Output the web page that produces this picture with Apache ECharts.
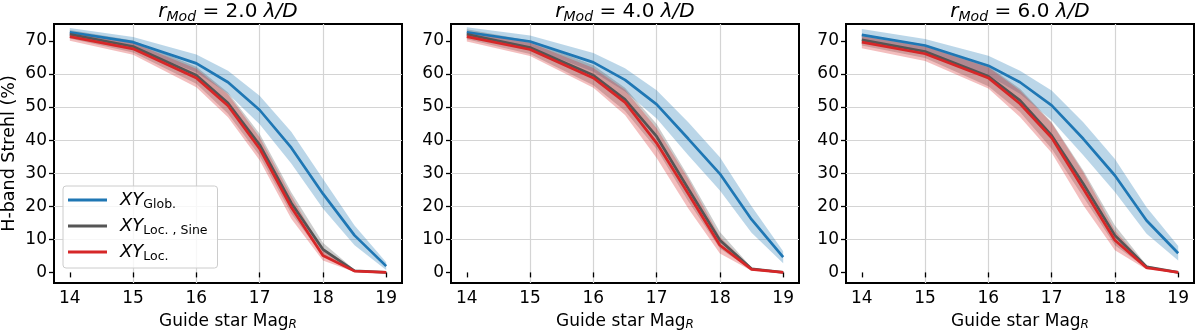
<!DOCTYPE html>
<html>
<head>
<meta charset="utf-8">
<script src="https://cdn.jsdelivr.net/npm/echarts@6/dist/echarts.min.js"></script>
<style>
  html, body { margin: 0; padding: 0; background: #fff; }
  #chart { width: 1200px; height: 331px; }
</style>
</head>
<body>
<div id="chart"></div>
<script>
// guide star magnitudes (x)
const mags = [14, 15, 16, 16.5, 17, 17.5, 18, 18.5, 19];
const xTicks = [14, 15, 16, 17, 18, 19];
const yTicks = [0, 10, 20, 30, 40, 50, 60, 70];
const panelTitles = ['2.0', '4.0', '6.0'];

// r_Mod = 2.0
const glob1 = [72.6, 69.6, 63.2, 57.5, 49.1, 37.7, 23.8, 11.2, 1.9];
const globErr1 = [1.3, 1.6, 2.7, 3.5, 4.3, 4.8, 4.5, 3.0, 1.2];
const sine1 = [72.0, 68.3, 59.6, 51.2, 38.6, 21.0, 7.0, 0.5, 0.0];
const sineErr1 = [1.3, 1.8, 2.6, 3.2, 3.3, 3.2, 2.0, 0.3, 0.05];
const loc1 = [71.3, 67.6, 58.8, 50.4, 37.4, 19.7, 5.1, 0.4, 0.0];
const locErr1 = [1.3, 1.8, 2.8, 3.5, 3.5, 3.5, 1.5, 0.3, 0.05];

// r_Mod = 4.0
const glob2 = [72.6, 69.8, 63.5, 58.2, 50.8, 40.4, 29.8, 16.0, 4.6];
const globErr2 = [1.5, 1.8, 2.8, 3.5, 4.3, 5.0, 5.0, 4.0, 1.8];
const sine2 = [72.0, 68.0, 59.6, 52.3, 41.1, 25.3, 9.7, 1.1, 0.0];
const sineErr2 = [1.5, 2.0, 3.0, 3.5, 3.8, 3.8, 2.5, 0.4, 0.05];
const loc2 = [71.3, 67.4, 58.8, 51.4, 39.1, 23.8, 8.2, 0.9, 0.0];
const locErr2 = [1.5, 2.0, 3.0, 3.8, 4.5, 4.5, 2.5, 0.4, 0.05];

// r_Mod = 6.0
const glob3 = [71.8, 68.6, 62.5, 57.5, 50.5, 40.4, 29.3, 15.7, 5.8];
const globErr3 = [1.8, 2.0, 3.0, 3.5, 4.5, 5.0, 5.0, 4.0, 2.2];
const sine3 = [70.3, 66.8, 59.3, 52.0, 41.4, 26.8, 11.2, 1.7, 0.0];
const sineErr3 = [1.7, 2.0, 3.0, 3.5, 4.0, 4.0, 3.0, 0.5, 0.05];
const loc3 = [69.6, 66.1, 58.8, 51.0, 40.7, 25.3, 9.7, 1.4, 0.0];
const locErr3 = [1.8, 2.2, 3.2, 4.0, 4.5, 5.0, 3.0, 0.5, 0.05];

const panels = [
  { glob: glob1, globErr: globErr1, sine: sine1, sineErr: sineErr1, loc: loc1, locErr: locErr1 },
  { glob: glob2, globErr: globErr2, sine: sine2, sineErr: sineErr2, loc: loc2, locErr: locErr2 },
  { glob: glob3, globErr: globErr3, sine: sine3, sineErr: sineErr3, loc: loc3, locErr: locErr3 }
];

const colors = { glob: '#1f77b4', sine: '#555555', loc: '#d62728' };
const legendNames = {
  glob: '{i|XY}{s|Glob.}',
  sine: '{i|XY}{s|Loc. , Sine}',
  loc: '{i|XY}{s|Loc.}'
};
const font = 'DejaVu Sans';
const gridLefts = [54, 451, 846];

let myChart = echarts.init(document.getElementById('chart'));

function bandSeries(p, mean, err, color) {
  return {
    type: 'custom',
    xAxisIndex: p,
    yAxisIndex: p,
    silent: true,
    z: 1,
    data: mags.map((m, i) => [m, mean[i] - err[i], mean[i] + err[i]]),
    encode: { x: 0, y: [1, 2] },
    renderItem: function (params, api) {
      if (params.dataIndex !== 0) return;
      let pts = [];
      for (let i = 0; i < mags.length; i++) pts.push(api.coord([mags[i], mean[i] + err[i]]));
      for (let i = mags.length - 1; i >= 0; i--) pts.push(api.coord([mags[i], mean[i] - err[i]]));
      return {
        type: 'polygon',
        shape: { points: pts },
        style: { fill: color, opacity: 0.3 }
      };
    }
  };
}

function lineSeries(p, key, vals) {
  return {
    name: key,
    type: 'line',
    xAxisIndex: p,
    yAxisIndex: p,
    z: 3,
    symbol: 'none',
    silent: true,
    data: mags.map((m, i) => [m, vals[i]]),
    lineStyle: { color: colors[key], width: 2.7 },
    itemStyle: { color: colors[key] }
  };
}

let grids = [], xAxes = [], yAxes = [], series = [], graphics = [];
panels.forEach(function (d, p) {
  grids.push({
    left: gridLefts[p], top: 24, width: 348, height: 259,
    containLabel: false, outerBoundsMode: 'none',
    show: true, borderColor: '#000', borderWidth: 2, backgroundColor: 'transparent'
  });
  xAxes.push({
    type: 'value', gridIndex: p, min: 13.75, max: 19.25, interval: 1,
    name: 'Guide star Mag{s|R}', nameLocation: 'middle', nameGap: 27,
    nameTextStyle: {
      fontFamily: font, fontSize: 17, color: '#000', lineHeight: 19,
      rich: { s: { fontFamily: font, fontStyle: 'italic', fontSize: 12, lineHeight: 10, verticalAlign: 'bottom', color: '#000' } }
    },
    axisLine: { show: false },
    axisTick: { show: true, length: 5, customValues: xTicks, lineStyle: { color: '#000', width: 1.3 } },
    axisLabel: { customValues: xTicks, fontFamily: font, fontSize: 17, color: '#000', margin: 7 },
    splitLine: { show: true, showMinLine: false, showMaxLine: false, lineStyle: { color: '#d4d4d4', width: 1.2 } }
  });
  yAxes.push({
    type: 'value', gridIndex: p, min: -3.2, max: 75.1, interval: 10,
    name: p === 0 ? 'H-band Strehl (%)' : '', nameLocation: 'middle', nameGap: 36,
    nameTextStyle: { fontFamily: font, fontSize: 17.5, color: '#000' },
    axisLine: { show: false },
    axisTick: { show: true, length: 5, customValues: yTicks, lineStyle: { color: '#000', width: 1.3 } },
    axisLabel: { customValues: yTicks, fontFamily: font, fontSize: 17, color: '#000', margin: 7 },
    splitLine: { show: true, showMinLine: false, showMaxLine: false, lineStyle: { color: '#d4d4d4', width: 1.2 } }
  });
  series.push(bandSeries(p, d.glob, d.globErr, colors.glob));
  series.push(bandSeries(p, d.sine, d.sineErr, colors.sine));
  series.push(bandSeries(p, d.loc, d.locErr, colors.loc));
  series.push(lineSeries(p, 'glob', d.glob));
  series.push(lineSeries(p, 'sine', d.sine));
  series.push(lineSeries(p, 'loc', d.loc));
  graphics.push({
    type: 'text',
    x: gridLefts[p] + 174, y: 12,
    style: {
      text: '{i|r}{m|Mod}{n| = ' + panelTitles[p] + ' }{i|λ/D}',
      align: 'center', verticalAlign: 'middle',
      rich: {
        i: { fontFamily: font, fontStyle: 'italic', fontSize: 20, lineHeight: 24, fill: '#000' },
        m: { fontFamily: font, fontStyle: 'italic', fontSize: 14, lineHeight: 13, verticalAlign: 'bottom', fill: '#000' },
        n: { fontFamily: font, fontSize: 20, lineHeight: 24, fill: '#000' }
      }
    }
  });
});

myChart.setOption({
  animation: false,
  grid: grids,
  xAxis: xAxes,
  yAxis: yAxes,
  legend: {
    orient: 'vertical', left: 63, top: 186,
    data: ['glob', 'sine', 'loc'],
    icon: 'rect', itemWidth: 39, itemHeight: 3, itemGap: 6,
    padding: [5, 10, 5, 5],
    backgroundColor: 'rgba(255,255,255,0.8)',
    borderColor: '#cccccc', borderWidth: 1, borderRadius: 3,
    formatter: function (name) { return legendNames[name]; },
    textStyle: {
      rich: {
        i: { fontFamily: font, fontStyle: 'italic', fontSize: 18, lineHeight: 22, padding: [0, 0, 0, 8], color: '#000' },
        s: { fontFamily: font, fontSize: 12.5, lineHeight: 10, verticalAlign: 'bottom', color: '#000' }
      }
    }
  },
  graphic: graphics,
  series: series
});
</script>
</body>
</html>
